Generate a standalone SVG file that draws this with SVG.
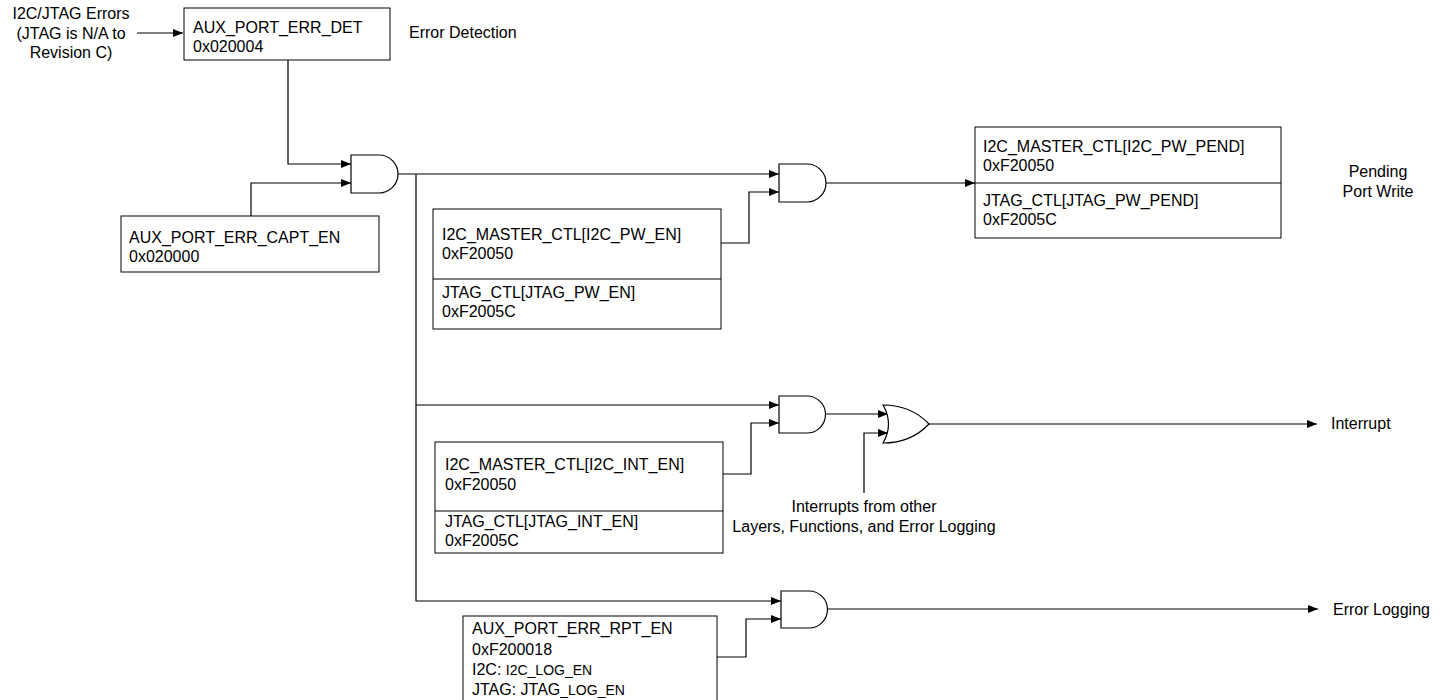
<svg xmlns="http://www.w3.org/2000/svg" width="1450" height="700" viewBox="0 0 1450 700">
<style>
text{font-family:"Liberation Sans",Arial,sans-serif;font-size:16px;fill:#000}
.box{fill:#fff;stroke:#000;stroke-width:1}
.gate{fill:#fff;stroke:#000;stroke-width:1.2}
.wire{fill:none;stroke:#000;stroke-width:1.2}
.mid{text-anchor:middle}
.sm{font-size:14px}
</style>
<defs>
<marker id="ah" markerUnits="userSpaceOnUse" markerWidth="11" markerHeight="10" refX="10" refY="4" orient="auto">
<path d="M0 0 L10 4 L0 8 Z" fill="#000"/>
</marker>
</defs>
<rect width="1450" height="700" fill="#fff"/>
<g id="connectors">
<path class="wire" d="M137 33 H183" marker-end="url(#ah)"/>
<path class="wire" d="M288 60 V164 H351" marker-end="url(#ah)"/>
<path class="wire" d="M251 216 V183 H351" marker-end="url(#ah)"/>
<path class="wire" d="M398 174 H779" marker-end="url(#ah)"/>
<path class="wire" d="M416 174 V601 H781" marker-end="url(#ah)"/>
<path class="wire" d="M416 405 H779" marker-end="url(#ah)"/>
<path class="wire" d="M721 243 H749 V192 H779" marker-end="url(#ah)"/>
<path class="wire" d="M826 183 H975" marker-end="url(#ah)"/>
<path class="wire" d="M826 414 H888" marker-end="url(#ah)"/>
<path class="wire" d="M723 474 H751 V423 H779" marker-end="url(#ah)"/>
<path class="wire" d="M864 493 V433 H888" marker-end="url(#ah)"/>
<path class="wire" d="M929 424 H1317" marker-end="url(#ah)"/>
<path class="wire" d="M717 657 H746 V619 H781" marker-end="url(#ah)"/>
<path class="wire" d="M828 609 H1318" marker-end="url(#ah)"/>
</g>
<g id="input-label">
<text class="mid" x="71" y="19">I2C/JTAG Errors</text>
<text class="mid" x="71" y="39">(JTAG is N/A to</text>
<text class="mid" x="71" y="58">Revision C)</text>
</g>
<g id="err-det">
<rect class="box" x="184" y="8" width="206" height="52"/>
<text x="193" y="33">AUX_PORT_ERR_DET</text>
<text x="193" y="52">0x020004</text>
</g>
<g id="err-det-label"><text x="409" y="38">Error Detection</text></g>
<g id="capt-en">
<rect class="box" x="121" y="216" width="258" height="56"/>
<text x="129" y="243">AUX_PORT_ERR_CAPT_EN</text>
<text x="129" y="262">0x020000</text>
</g>
<g id="and1"><path class="gate" d="M351 155 H379 A19 19 0 0 1 379 193 H351 Z"/></g>
<g id="and2"><path class="gate" d="M779 164 H807 A19 19 0 0 1 807 202 H779 Z"/></g>
<g id="and3"><path class="gate" d="M779 396 H807 A18.5 18.5 0 0 1 807 433 H779 Z"/></g>
<g id="and4"><path class="gate" d="M781 591 H809 A18.5 18.5 0 0 1 809 628 H781 Z"/></g>
<g id="or1"><path class="gate" d="M883 405 Q911 405 929 424 Q911 443 883 443 Q894 424 883 405 Z"/></g>
<g id="pw-en">
<rect class="box" x="433" y="209" width="288" height="120"/>
<line class="wire" x1="433" y1="279" x2="721" y2="279"/>
<text x="442" y="240">I2C_MASTER_CTL[I2C_PW_EN]</text>
<text x="442" y="259">0xF20050</text>
<text x="442" y="298">JTAG_CTL[JTAG_PW_EN]</text>
<text x="442" y="317">0xF2005C</text>
</g>
<g id="pw-pend">
<rect class="box" x="975" y="127" width="306" height="111"/>
<line class="wire" x1="975" y1="183" x2="1281" y2="183"/>
<text x="983" y="152">I2C_MASTER_CTL[I2C_PW_PEND]</text>
<text x="983" y="171">0xF20050</text>
<text x="983" y="206">JTAG_CTL[JTAG_PW_PEND]</text>
<text x="983" y="225">0xF2005C</text>
</g>
<g id="pw-label">
<text class="mid" x="1378" y="177">Pending</text>
<text class="mid" x="1378" y="197">Port Write</text>
</g>
<g id="int-en">
<rect class="box" x="435" y="442" width="288" height="111"/>
<line class="wire" x1="435" y1="511" x2="723" y2="511"/>
<text x="445" y="470">I2C_MASTER_CTL[I2C_INT_EN]</text>
<text x="445" y="490">0xF20050</text>
<text x="445" y="527">JTAG_CTL[JTAG_INT_EN]</text>
<text x="445" y="546">0xF2005C</text>
</g>
<g id="other-int-label">
<text class="mid" x="864" y="512">Interrupts from other</text>
<text class="mid" x="864" y="532">Layers, Functions, and Error Logging</text>
</g>
<g id="interrupt-label"><text x="1331" y="429">Interrupt</text></g>
<g id="rpt-en">
<rect class="box" x="463" y="616" width="254" height="90"/>
<text x="472" y="634">AUX_PORT_ERR_RPT_EN</text>
<text x="472" y="655">0xF200018</text>
<text x="472" y="675">I2C: <tspan class="sm">I2C_LOG_EN</tspan></text>
<text x="472" y="695">JTAG: JTAG<tspan class="sm">_LOG_EN</tspan></text>
</g>
<g id="errlog-label"><text x="1333" y="615">Error Logging</text></g>
</svg>
